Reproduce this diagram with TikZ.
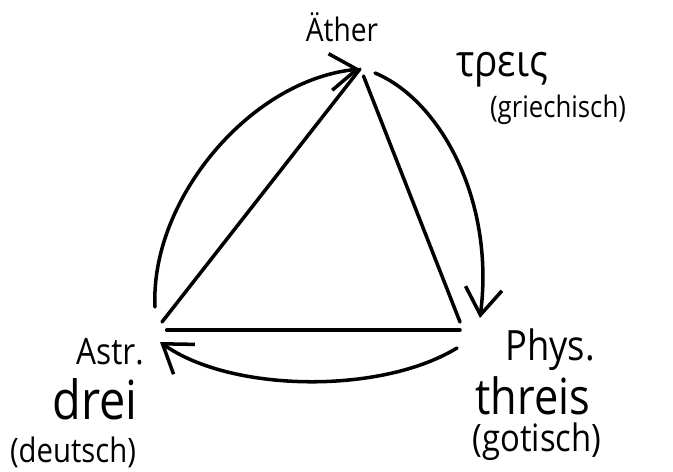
\documentclass[tikz,border=0pt]{standalone}
\usepackage{fontspec}
\setmainfont{Open Sans}
\usepackage{graphicx}
\usepackage{tikz}
\usetikzlibrary{arrows.meta}

\newcommand{\hand}[1]{\scalebox{1}[1.15]{#1}}

\begin{document}
\begin{tikzpicture}[
        x=0.03cm,y=-0.03cm,
        word/.style={inner sep=0pt,anchor=center},
        stroke/.style={line width=3pt,line cap=round,black},
        bow/.style={stroke,-{Straight Barb[length=8mm,width=11mm,line width=3pt]}},
      ]
      \useasboundingbox (0,0) rectangle (673,471);

      % Ecken
      \node[word,font=\fontsize{24}{26}\selectfont] (aether) at (342,27) {\hand{Äther}};
      \node[word,font=\fontsize{27}{30}\selectfont] (astr) at (110,352) {\hand{Astr.}};
      \node[word,font=\fontsize{31}{34}\selectfont] (phys) at (550,350) {\hand{Phys.}};

      % Zahlwoerter
      \node[word,font=\fontsize{33}{36}\selectfont] (tris) at (502,70) {\hand{τρεις}};
      \node[word,font=\fontsize{22}{24}\selectfont] (gr) at (558,110) {\hand{(griechisch)}};
      \node[word,font=\fontsize{40}{44}\selectfont] (drei) at (95,399) {\hand{drei}};
      \node[word,font=\fontsize{25}{28}\selectfont] (de) at (73,452) {\hand{(deutsch)}};
      \node[word,font=\fontsize{37}{40}\selectfont] (threis) at (533,396) {\hand{threis}};
      \node[word,font=\fontsize{28}{31}\selectfont] (got) at (537,442) {\hand{(gotisch)}};

      \coordinate (aeV) at (360,69);
      \coordinate (asV) at (162,322);
      \coordinate (phV) at (460,322);

      % Dreieck
      \draw[stroke] (asV) -- (aeV);
      \draw[stroke] ([xshift=3pt,yshift=-6pt]aeV) -- (phV);
      \draw[stroke] ([xshift=4pt,yshift=-7pt]asV) -- ([yshift=-7pt]phV);

      % Kreislauf
      \draw[bow] (155,307) .. controls (150,200) and (250,80) .. (aeV);
      \draw[bow] (375,73) .. controls (440,100) and (495,200) .. (480,318);
      \draw[bow] (457,348) .. controls (380,395) and (230,392) .. (160,342);
    \end{tikzpicture}
\end{document}
